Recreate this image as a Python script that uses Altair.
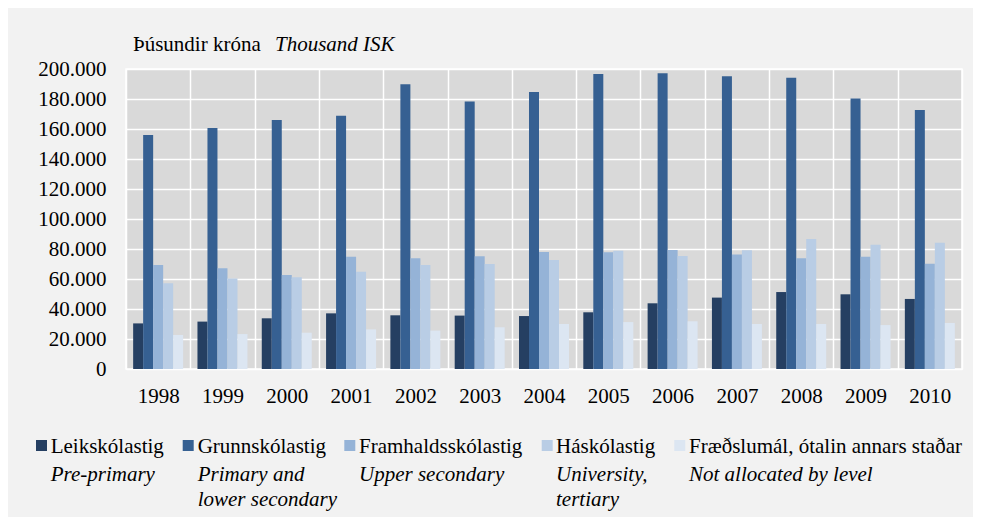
import altair as alt
import pandas as pd

years = ["1998", "1999", "2000", "2001", "2002", "2003", "2004",
         "2005", "2006", "2007", "2008", "2009", "2010"]

series = ["Leikskólastig", "Grunnskólastig", "Framhaldsskólastig",
          "Háskólastig", "Fræðslumál, ótalin annars staðar"]
series_en = [["Pre-primary"], ["Primary and", "lower secondary"],
             ["Upper secondary"], ["University,", "tertiary"],
             ["Not allocated by level"]]
colors = ["#253f62", "#366092", "#95b3d7", "#b9cde5", "#dce6f2"]

leik = [30400, 31600, 33800, 37100, 35800, 35600, 35300, 37800, 43800, 47600, 51300, 49800, 46700]
grunn = [156000, 160700, 166000, 168900, 189800, 178400, 184700, 196700, 197100, 195100, 194200, 180400, 172700]
framh = [69300, 67100, 62700, 74900, 73800, 75100, 78000, 77800, 79300, 76400, 73800, 74900, 70200]
hask = [57100, 60400, 61100, 64900, 69300, 70000, 72700, 78900, 75300, 79100, 86700, 82900, 84200]
fraed = [22700, 23300, 24200, 26400, 25600, 27800, 30000, 31300, 31800, 30000, 30000, 29300, 30700]

values = [leik, grunn, framh, hask, fraed]
rows = []
for s, vals in zip(series, values):
    for y, v in zip(years, vals):
        rows.append({"year": y, "series": s, "value": v})
df = pd.DataFrame(rows)

FONT = "'Liberation Serif', 'Times New Roman', Times, 'DejaVu Serif', serif"
FS = 21

bars = alt.Chart(df).mark_bar().encode(
    x=alt.X("year:N", sort=years, title=None,
            scale=alt.Scale(paddingInner=0, paddingOuter=0),
            axis=alt.Axis(grid=True, tickBand="extent", gridColor="white",
                          gridWidth=1.5, ticks=False, domain=False,
                          labelAngle=0, labelPadding=16, labelFont=FONT,
                          labelFontSize=FS, labelColor="black")),
    xOffset=alt.XOffset("series:N", sort=series,
                        scale=alt.Scale(paddingInner=0, paddingOuter=0.715)),
    y=alt.Y("value:Q", title=None,
            scale=alt.Scale(domain=[0, 200000]),
            axis=alt.Axis(values=list(range(0, 200001, 20000)), grid=True,
                          gridColor="white", gridWidth=1.5, ticks=False,
                          domain=False, labelPadding=20, labelFont=FONT,
                          labelFontSize=FS, labelColor="black",
                          labelExpr="replace(format(datum.value, ','), ',', '.')")),
    color=alt.Color("series:N", sort=series,
                    scale=alt.Scale(domain=series, range=colors), legend=None),
)

# plot origin in page coordinates
OX, OY = 126, 69

layers = [bars]


def txt(s, px, py, italic=False):
    return alt.Chart(pd.DataFrame({"t": [s]})).mark_text(
        align="left", baseline="alphabetic", font=FONT, fontSize=FS,
        fontStyle="italic" if italic else "normal", color="black"
    ).encode(text="t:N", x=alt.value(px - OX), y=alt.value(py - OY))


layers.append(txt("Þúsundir króna", 133, 51))
layers.append(txt("Thousand ISK", 275, 51, italic=True))

sq_x = [36, 182.7, 344.3, 541.7, 674.3]
tx_x = [50.7, 197.7, 359, 556, 689]
row_y = [453, 481, 506]
for i, (s, en, c) in enumerate(zip(series, series_en, colors)):
    sq = alt.Chart(pd.DataFrame({"s": [s]})).mark_rect(color=c).encode(
        x=alt.value(sq_x[i] - OX), x2=alt.value(sq_x[i] + 11 - OX),
        y=alt.value(440 - OY), y2=alt.value(451 - OY))
    layers.append(sq)
    layers.append(txt(s, tx_x[i], row_y[0]))
    for j, line in enumerate(en):
        layers.append(txt(line, tx_x[i], row_y[j + 1], italic=True))

chart = alt.layer(*layers).properties(
    width=836, height=300,
    autosize=alt.AutoSizeParams(type="none"),
    padding={"left": 118, "top": 61, "right": 11, "bottom": 148},
    background="#f2f2f2",
).configure_view(fill="#d9d9d9", stroke="white", strokeWidth=1.5)

chart.save("out.html", embed_options={"renderer": "svg", "actions": False})
